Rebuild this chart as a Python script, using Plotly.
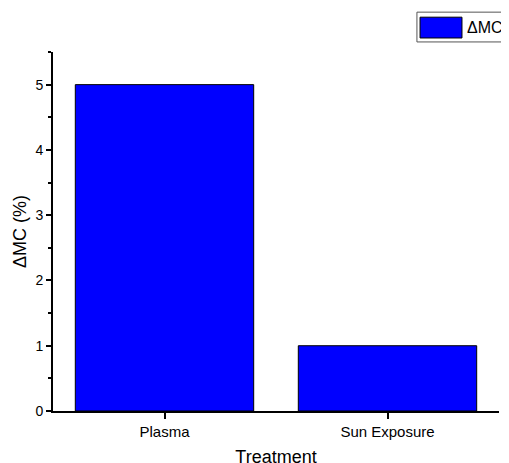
import plotly.graph_objects as go

categories = ["Plasma", "Sun Exposure"]
delta_mc = [5.0, 1.0]
series_name = "ΔMC"

FONT = "Liberation Sans, Arial, sans-serif"

fig = go.Figure()
fig.add_trace(go.Bar(
    x=categories, y=delta_mc, name=series_name,
    marker=dict(color="#0000FF", line=dict(color="black", width=1)),
    width=0.8, showlegend=False,
))

# page body adds an 8px offset; margins compensate for it
fig.update_layout(
    width=509, height=463,
    margin=dict(l=45, r=18, t=44, b=60, autoexpand=False),
    paper_bgcolor="white", plot_bgcolor="white",
    font=dict(family=FONT, size=13, color="black"),
    xaxis=dict(
        type="category", range=[-0.5, 1.5], automargin=False,
        showline=True, linecolor="black", linewidth=2,
        ticks="outside", ticklen=6, tickwidth=1.5, tickcolor="black",
        showgrid=False, zeroline=False,
        title=dict(text="Treatment", font=dict(size=18), standoff=11),
        tickfont=dict(size=15),
    ),
    xaxis2=dict(
        overlaying="x", range=[-0.5, 1.5], anchor="y", automargin=False,
        tickvals=[-0.5, 0.5, 1.5], showticklabels=False,
        ticks="outside", ticklen=3, tickwidth=1.5, tickcolor="black",
        showline=False, showgrid=False, zeroline=False,
    ),
    yaxis=dict(
        range=[0, 5.5], dtick=1, tick0=0, automargin=False,
        showline=True, linecolor="black", linewidth=2,
        ticks="outside", ticklen=5, tickwidth=1.5, tickcolor="black",
        minor=dict(dtick=0.5, ticks="outside", ticklen=3, tickwidth=1.5, tickcolor="black", showgrid=False),
        showgrid=False, zeroline=False,
        title=dict(text="ΔMC (%)", font=dict(size=18), standoff=4),
        tickfont=dict(size=14),
    ),
)

# legend box drawn manually to mimic the wide swatch
fig.add_shape(type="rect", xref="paper", yref="paper",
              x0=0.816, x1=1.035, y0=1.028, y1=1.111,
              line=dict(color="#555555", width=1), fillcolor="white")
fig.add_shape(type="rect", xref="paper", yref="paper",
              x0=0.823, x1=0.917, y0=1.039, y1=1.097,
              line=dict(color="black", width=1), fillcolor="#0000FF")
fig.add_annotation(xref="paper", yref="paper", x=0.923, y=1.069,
                   xanchor="left", yanchor="middle", showarrow=False,
                   text=series_name, font=dict(family=FONT, size=16, color="black"))

fig.write_html("out.html")
